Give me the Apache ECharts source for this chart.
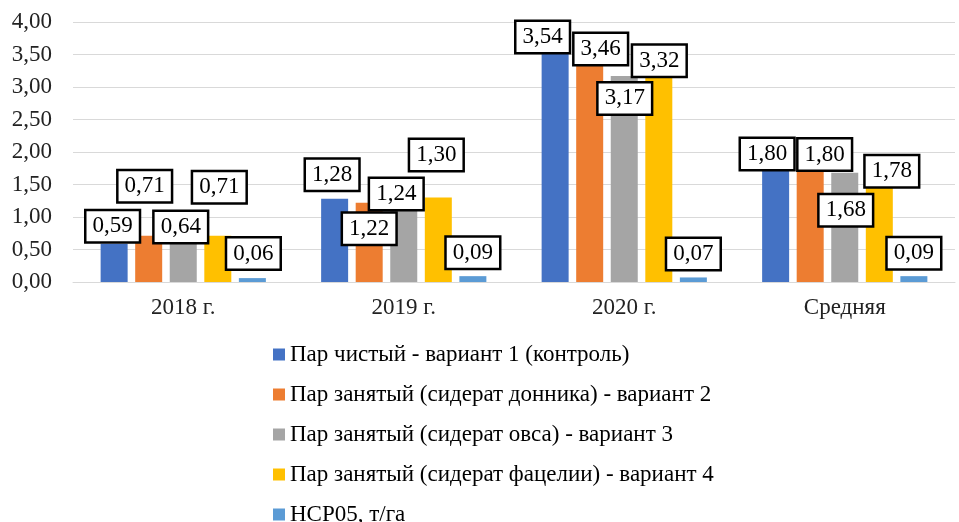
<!DOCTYPE html>
<html lang="ru">
  <head>
    <meta charset="UTF-8" />
    <title>bar labels</title>
    <script src="https://cdn.jsdelivr.net/npm/echarts@6/dist/echarts.min.js"></script>
    <style>
      html, body { margin: 0; padding: 0; background: #fff; }
      #chart { width: 959px; height: 522px; }
    </style>
  </head>
  <body>
    <div id="chart"></div>
    <script>
      var categories = ['2018 г.', '2019 г.', '2020 г.', 'Средняя'];

      var seriesNames = [
        'Пар чистый - вариант 1 (контроль)',
        'Пар занятый (сидерат донника) - вариант 2',
        'Пар занятый (сидерат овса) - вариант 3',
        'Пар занятый (сидерат фацелии) - вариант 4',
        'НСР05, т/га'
      ];

      var variant1 = [0.59, 1.28, 3.54, 1.80];
      var variant2 = [0.71, 1.22, 3.46, 1.80];
      var variant3 = [0.64, 1.24, 3.17, 1.68];
      var variant4 = [0.71, 1.30, 3.32, 1.78];
      var hcp05 = [0.06, 0.09, 0.07, 0.09];

      var yTicks = { min: 0, max: 4, step: 0.5 };

      var colors = ['#4472C4', '#ED7D31', '#A5A5A5', '#FFC000', '#5B9BD5'];

      // сдвиг подписей от верха столбика (как в исходной диаграмме)
      var labelShift = [
        [[-1.5, -17.5], [-2.5, -24], [-12.5, -15], [-8.5, -11]],
        [[-4, -49.5], [0, 26], [11, -8], [14.5, -10.5]],
        [[-2.5, -13.5], [-7.5, -7.5], [0.5, 22.5], [1, 37.5]],
        [[1.5, -48.5], [-2, -42.5], [0.5, -5.5], [12.5, 5]],
        [[1, -24.5], [0, -23.5], [0, -23.5], [0, -23]]
      ];

      var fmt = function (v) {
        return v.toFixed(2).replace('.', ',');
      };

      var allData = [variant1, variant2, variant3, variant4, hcp05];
      var font = 'Liberation Serif';

      var series = allData.map(function (arr, s) {
        return {
          name: seriesNames[s],
          type: 'bar',
          barWidth: 27,
          barGap: '28%',
          color: colors[s],
          data: arr.map(function (v, i) {
            return {
              value: v,
              label: { offset: labelShift[s][i] }
            };
          }),
          label: {
            show: true,
            position: ['50%', 0],
            align: 'center',
            verticalAlign: 'middle',
            formatter: function (p) {
              return fmt(p.value);
            },
            fontFamily: font,
            fontSize: 23,
            lineHeight: 23,
            color: '#000',
            backgroundColor: '#fff',
            borderColor: '#000',
            borderWidth: 2.5,
            padding: [4, 6, 3, 6]
          }
        };
      });

      var chart = echarts.init(document.getElementById('chart'));
      chart.setOption({
        animation: false,
        backgroundColor: '#fff',
        textStyle: { fontFamily: font },
        grid: { left: 73, right: 4, top: 22, bottom: 240 },
        legend: {
          orient: 'vertical',
          left: 273,
          top: 343,
          height: 220,
          padding: 0,
          itemWidth: 12,
          itemHeight: 12,
          itemGap: 17,
          icon: 'rect',
          selectedMode: false,
          textStyle: { fontFamily: font, fontSize: 23, color: '#000', lineHeight: 23 },
          data: seriesNames
        },
        xAxis: {
          type: 'category',
          data: categories,
          axisTick: { show: false },
          axisLine: { lineStyle: { color: '#d9d9d9', width: 1 } },
          axisLabel: { fontFamily: font, fontSize: 23, color: '#222', margin: 14 }
        },
        yAxis: {
          type: 'value',
          min: yTicks.min,
          max: yTicks.max,
          interval: yTicks.step,
          axisLine: { show: false },
          axisTick: { show: false },
          splitLine: { lineStyle: { color: '#d9d9d9', width: 1 } },
          axisLabel: {
            fontFamily: font,
            fontSize: 23,
            color: '#222',
            margin: 21,
            formatter: function (v) {
              return fmt(v);
            }
          }
        },
        series: series
      });
    </script>
  </body>
</html>
